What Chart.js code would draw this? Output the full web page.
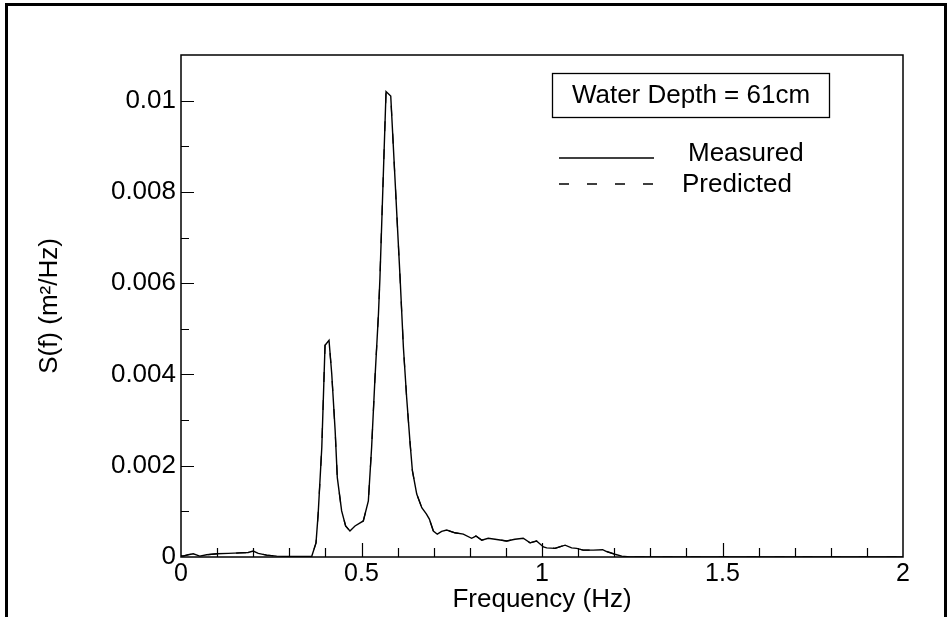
<!DOCTYPE html>
<html>
<head>
<meta charset="utf-8">
<script src="https://cdn.jsdelivr.net/npm/chart.js@4"></script>
<style>
  html, body { margin: 0; padding: 0; background: #fff; }
  #wrap { width: 951px; height: 617px; }
</style>
</head>
<body>
<div id="wrap"><canvas id="canvas-1"></canvas></div>
<script>
// spectrum (Hz, m^2/Hz)
const freq = [0, 0.005, 0.02, 0.034, 0.052, 0.071, 0.099, 0.131, 0.163, 0.186, 0.2, 0.214, 0.237, 0.265, 0.302, 0.362,
  0.374, 0.38, 0.39, 0.399, 0.41, 0.4175, 0.427, 0.433, 0.445, 0.456, 0.468, 0.482, 0.505, 0.519, 0.528, 0.537, 0.547, 0.551,
  0.568, 0.581, 0.607, 0.616, 0.625, 0.634, 0.641, 0.653, 0.667, 0.68, 0.688, 0.699, 0.71, 0.722, 0.736, 0.759, 0.782,
  0.805, 0.817, 0.833, 0.851, 0.87, 0.902, 0.925, 0.948, 0.967, 0.985, 1.004, 1.013, 1.036, 1.064, 1.082, 1.096, 1.114,
  1.142, 1.168, 1.179, 1.202, 1.221, 1.244, 1.3, 1.4, 1.5, 1.6, 1.7, 1.8, 1.9, 2.0];
const measured = [0.00003, 0.00002, 0.00005, 0.00007, 0.00002, 0.00005, 0.00007, 0.00008, 0.00009, 0.0001, 0.00013, 0.00008, 0.00004, 0.00002, 0.00001, 0.00001,
  0.00031, 0.00095, 0.0024, 0.00464, 0.00475, 0.00402, 0.00277, 0.00174, 0.00101, 0.00068, 0.00057, 0.00068, 0.00079, 0.00123, 0.0024, 0.00387, 0.00533, 0.0061,
  0.0102, 0.0101, 0.0061, 0.0046, 0.0035, 0.00255, 0.00189, 0.00138, 0.00108, 0.00094, 0.00083, 0.00057, 0.0005, 0.00056, 0.00059, 0.00053, 0.0005,
  0.00041, 0.00046, 0.00037, 0.00041, 0.00039, 0.00035, 0.00039, 0.00041, 0.00031, 0.00035, 0.00022, 0.0002, 0.00019, 0.00026, 0.0002, 0.00019, 0.00015,
  0.00015, 0.00016, 0.00012, 0.00006, 0.00002, 0, 0, 0, 0, 0, 0, 0, 0, 0];
// predicted curve lies on top of the measured one in the figure
const predicted = [0.00003, 0.00002, 0.00005, 0.00007, 0.00002, 0.00005, 0.00007, 0.00008, 0.00009, 0.0001, 0.00013, 0.00008, 0.00004, 0.00002, 0.00001, 0.00001,
  0.00031, 0.00095, 0.0024, 0.00464, 0.00475, 0.00402, 0.00277, 0.00174, 0.00101, 0.00068, 0.00057, 0.00068, 0.00079, 0.00123, 0.0024, 0.00387, 0.00533, 0.0061,
  0.0102, 0.0101, 0.0061, 0.0046, 0.0035, 0.00255, 0.00189, 0.00138, 0.00108, 0.00094, 0.00083, 0.00057, 0.0005, 0.00056, 0.00059, 0.00053, 0.0005,
  0.00041, 0.00046, 0.00037, 0.00041, 0.00039, 0.00035, 0.00039, 0.00041, 0.00031, 0.00035, 0.00022, 0.0002, 0.00019, 0.00026, 0.0002, 0.00019, 0.00015,
  0.00015, 0.00016, 0.00012, 0.00006, 0.00002, 0, 0, 0, 0, 0, 0, 0, 0, 0];

const xTicks = [0, 0.5, 1, 1.5, 2];
const xTickLabels = ['0', '0.5', '1', '1.5', '2'];
const yTicks = [0, 0.002, 0.004, 0.006, 0.008, 0.01];
const yTickLabels = ['0', '0.002', '0.004', '0.006', '0.008', '0.01'];
const depthNote = 'Water Depth = 61cm';

const FONT = '"Liberation Sans", Arial, Helvetica, sans-serif';
const toPoints = ys => freq.map((f, i) => ({x: f, y: ys[i]}));

// outer frame, plot box, inward ticks, note box and legend
const decor = {
  id: 'decor',
  beforeDraw(chart) {
    const ctx = chart.ctx;
    ctx.save();
    ctx.fillStyle = '#fff';
    ctx.fillRect(0, 0, chart.width, chart.height);
    ctx.strokeStyle = '#000';
    ctx.lineWidth = 3;
    ctx.strokeRect(6.5, 4.5, 939, 700);
    ctx.restore();
  },
  afterDraw(chart) {
    const {ctx, chartArea: a, scales: {x, y}} = chart;
    ctx.save();
    ctx.strokeStyle = '#000';
    ctx.lineWidth = 1.5;
    ctx.strokeRect(a.left, a.top, a.right - a.left, a.bottom - a.top);

    ctx.lineWidth = 1.2;
    ctx.beginPath();
    for (let i = 1; i < 20; i++) {
      const px = Math.round(x.getPixelForValue(i / 10)) + 0.5;
      const len = i % 5 === 0 ? 14 : 9;
      ctx.moveTo(px, a.bottom);
      ctx.lineTo(px, a.bottom - len);
    }
    for (let i = 1; i <= 10; i++) {
      const py = Math.round(y.getPixelForValue(i / 1000)) + 0.5;
      const len = i % 2 === 0 ? 13 : 8;
      ctx.moveTo(a.left, py);
      ctx.lineTo(a.left + len, py);
    }
    ctx.stroke();

    // note box
    ctx.lineWidth = 1.3;
    ctx.strokeRect(552.5, 73.5, 277, 44);
    ctx.fillStyle = '#000';
    ctx.font = '26px ' + FONT;
    ctx.textAlign = 'center';
    ctx.textBaseline = 'middle';
    ctx.fillText(depthNote, 691, 96);

    // legend
    const rows = [{y: 158, tx: 688, ty: 154}, {y: 184, tx: 682, ty: 185}];
    ctx.textAlign = 'left';
    chart.data.datasets.forEach((ds, i) => {
      const r = rows[i];
      ctx.lineWidth = 1.3;
      ctx.setLineDash(ds.borderDash || []);
      ctx.beginPath();
      ctx.moveTo(559, r.y);
      ctx.lineTo(654, r.y);
      ctx.stroke();
      ctx.setLineDash([]);
      ctx.fillText(ds.label, r.tx, r.ty);
    });
    ctx.restore();
  }
};

const specChart = new Chart(document.getElementById('canvas-1'), {
  type: 'line',
  data: {
    datasets: [{
      label: 'Measured',
      data: toPoints(measured),
      borderColor: '#000',
      borderWidth: 1.4,
      pointRadius: 0,
      tension: 0,
      fill: false
    }, {
      label: 'Predicted',
      data: toPoints(predicted),
      borderColor: '#000',
      borderWidth: 1.2,
      borderDash: [10, 18],
      pointRadius: 0,
      tension: 0,
      fill: false
    }]
  },
  options: {
    responsive: true,
    maintainAspectRatio: false,
    animation: false,
    events: [],
    layout: { padding: { left: 0, top: 55, right: 48, bottom: 0 } },
    plugins: {
      legend: { display: false },
      tooltip: { enabled: false }
    },
    scales: {
      x: {
        type: 'linear',
        min: 0,
        max: 2,
        afterFit: s => { s.height = 60; },
        afterBuildTicks: s => { s.ticks = xTicks.map(v => ({value: v})); },
        grid: { display: false, drawTicks: false },
        border: { display: false },
        ticks: {
          callback: v => xTickLabels[xTicks.indexOf(v)],
          color: '#000',
          font: { family: FONT, size: 25 },
          padding: 2,
          maxRotation: 0,
          autoSkip: false
        },
        title: {
          display: true,
          text: 'Frequency (Hz)',
          color: '#000',
          font: { family: FONT, size: 26 },
          padding: { top: 0, bottom: 2 }
        }
      },
      y: {
        type: 'linear',
        min: 0,
        max: 0.011,
        afterFit: s => { s.width = 181; },
        afterBuildTicks: s => { s.ticks = yTicks.map(v => ({value: v})); },
        grid: { display: false, drawTicks: false },
        border: { display: false },
        ticks: {
          callback: v => yTickLabels[yTicks.indexOf(v)],
          color: '#000',
          font: { family: FONT, size: 26 },
          padding: 5
        },
        title: {
          display: true,
          text: 'S(f) (m²/Hz)',
          color: '#000',
          font: { family: FONT, size: 26 },
          padding: { top: 34, bottom: 0 }
        }
      }
    }
  },
  plugins: [decor]
});
</script>
</body>
</html>
